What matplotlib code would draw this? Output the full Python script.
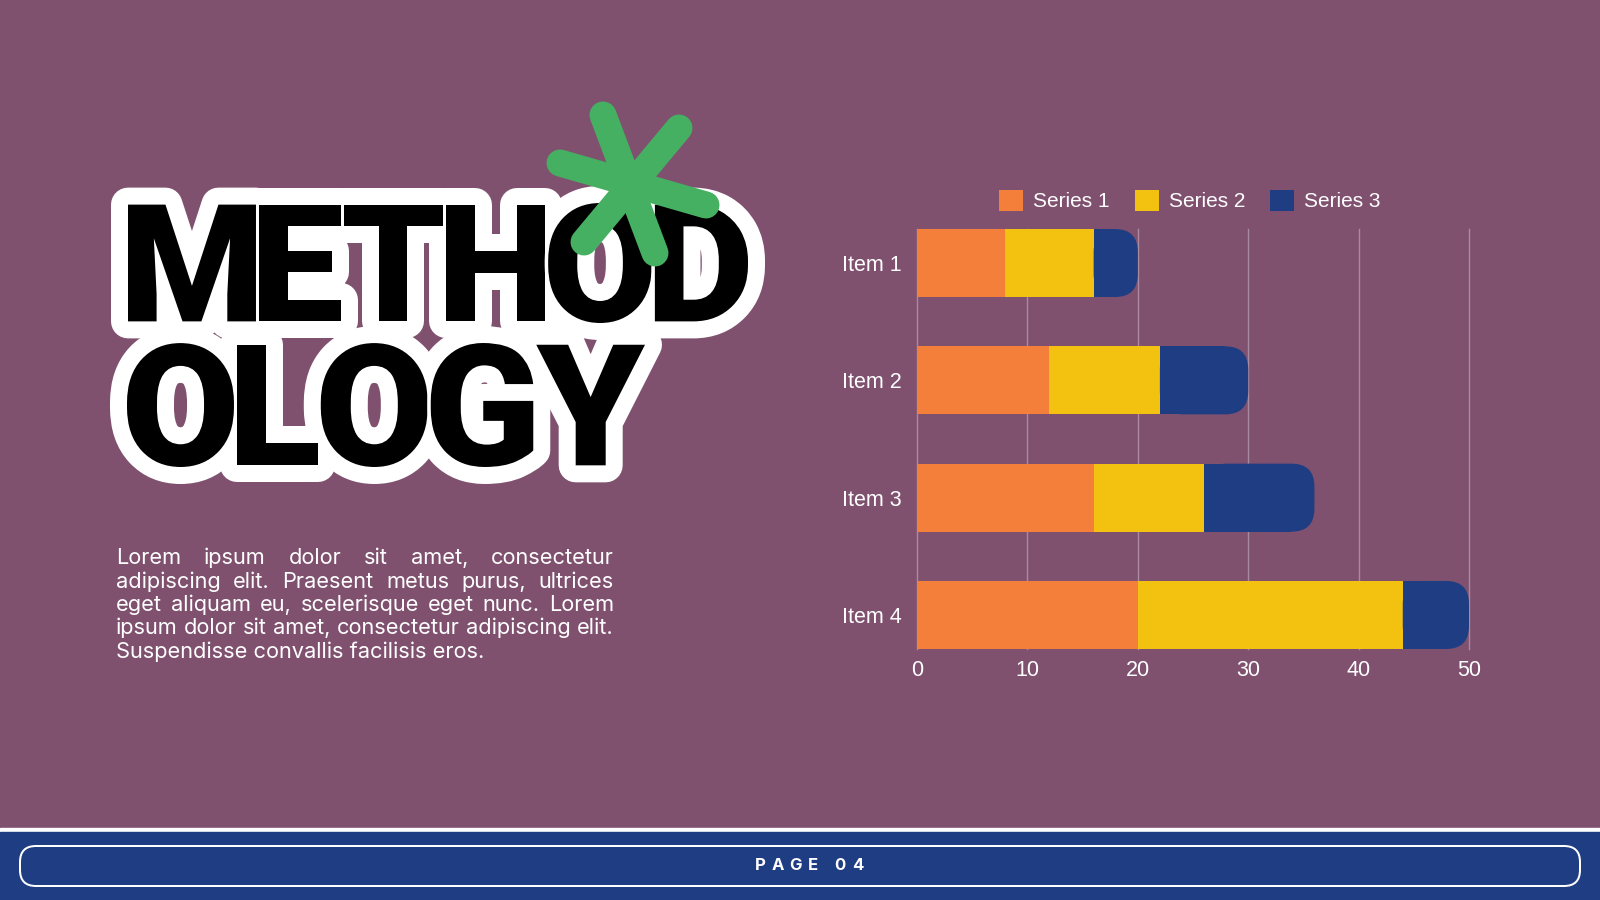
import matplotlib
matplotlib.use("Agg")  # non-GUI backend

import numpy as np
import matplotlib.pyplot as plt
from matplotlib.patches import FancyBboxPatch, PathPatch, Patch, Rectangle
from matplotlib.textpath import TextPath
from matplotlib.font_manager import FontProperties
from matplotlib.transforms import Affine2D

# ---- data ----
items = ["Item 1", "Item 2", "Item 3", "Item 4"]
series_names = ["Series 1", "Series 2", "Series 3"]
series_1 = [8, 12, 16, 20]
series_2 = [8, 10, 10, 24]
series_3 = [4, 8, 10, 6]
x_ticks = [0, 10, 20, 30, 40, 50]

title_lines = ["METHOD", "OLOGY"]
body_lines = [
    "Lorem ipsum dolor sit amet, consectetur",
    "adipiscing elit. Praesent metus purus, ultrices",
    "eget aliquam eu, scelerisque eget nunc. Lorem",
    "ipsum dolor sit amet, consectetur adipiscing elit.",
    "Suspendisse convallis facilisis eros.",
]
page_label = "PAGE 04"

# ---- style ----
BG = "#7F516F"
ORANGE = "#F47F3A"
YELLOW = "#F3C110"
NAVY = "#1F3D82"
GREEN = "#45B062"
GRID = "#A98A9F"
CHART_FONT = "Liberation Sans"
W, H = 1600, 900
PT = 0.72  # points per pixel at dpi 100

fig = plt.figure(figsize=(16, 9), dpi=100)
fig.patch.set_facecolor(BG)

# full-figure layer in pixel units, y pointing down
bg = fig.add_axes([0, 0, 1, 1])
bg.set_xlim(0, W)
bg.set_ylim(H, 0)
bg.axis("off")

# footer
bg.add_patch(Rectangle((0, 828), W, 4, color="white", zorder=1))
bg.add_patch(Rectangle((0, 832), W, H - 832, color=NAVY, zorder=1))
bg.add_patch(FancyBboxPatch((20, 846), W - 40, 40,
                            boxstyle="round,pad=0,rounding_size=16",
                            fc="none", ec="white", lw=2 * PT, zorder=2))
adv = {" ": 10}
total = sum(adv.get(c, 17.5) for c in page_label) - 17.5
x = 809 - total / 2
for ch in page_label:
    if ch != " ":
        bg.text(x, 866, ch, ha="center", va="center", color="white",
                fontsize=12, fontweight="bold", family="Inter", zorder=3)
    x += adv.get(ch, 17.5)

# title, letter by letter so the glyphs sit tight against each other
title_font = FontProperties(family="Roboto", weight="black")
title_boxes = [(128, 203, 748, 323), (127, 343, 645, 467)]
LETTER_GAP = 3


def letter_paths(s, box):
    left, top, right, bottom = box
    glyphs = [TextPath((0, 0), c, size=100, prop=title_font) for c in s]
    exts = [g.get_extents() for g in glyphs]
    sx = (right - left - LETTER_GAP * (len(s) - 1)) / sum(e.width for e in exts)
    y0 = min(e.y0 for e in exts)
    y1 = max(e.y1 for e in exts)
    sy = (bottom - top) / (y1 - y0)
    paths = []
    x = left
    for g, e in zip(glyphs, exts):
        tr = (Affine2D().translate(-e.x0, -y0).scale(sx, -sy)
              .translate(x, bottom))
        paths.append(tr.transform_path(g))
        x += e.width * sx + LETTER_GAP
    return paths


all_paths = [letter_paths(s, b) for s, b in zip(title_lines, title_boxes)]
for paths in all_paths:
    for p in paths:
        bg.add_patch(PathPatch(p, fc="white", ec="white", lw=34 * PT,
                               joinstyle="round", zorder=2))
z = 3
for paths in all_paths:
    for p in paths:
        bg.add_patch(PathPatch(p, fc="white", ec="white", lw=7 * PT,
                               joinstyle="round", zorder=z))
        bg.add_patch(PathPatch(p, fc="black", ec="none", zorder=z + 0.005))
        z += 0.01

# green asterisk
for (x0, y0), (x1, y1) in [((603, 115), (655, 253)),
                           ((679, 128), (584, 242)),
                           ((560, 163), (706, 205))]:
    bg.plot([x0, x1], [y0, y1], color=GREEN, lw=27 * PT,
            solid_capstyle="round", zorder=5)

# body paragraph, justified
renderer = fig.canvas.get_renderer()
BODY_LEFT, BODY_RIGHT = 116, 614
body_style = dict(family="Inter", color="white")


def text_w(s, fs):
    t = bg.text(0, 0, s, fontsize=fs, **body_style)
    w = t.get_window_extent(renderer).width
    t.remove()
    return w


body_size = 14 * (BODY_RIGHT - BODY_LEFT) / text_w(body_lines[3], 14)
for i, line in enumerate(body_lines):
    yb = 564 + i * 23.5
    if i == len(body_lines) - 1:
        bg.text(BODY_LEFT, yb, line, fontsize=body_size, va="baseline",
                **body_style)
        continue
    words = line.split()
    widths = [text_w(w_, body_size) for w_ in words]
    gap = (BODY_RIGHT - BODY_LEFT - sum(widths)) / (len(words) - 1)
    x = BODY_LEFT
    for w_, wd in zip(words, widths):
        bg.text(x, yb, w_, fontsize=body_size, va="baseline", **body_style)
        x += wd + gap

# ---- chart ----
AX_L, AX_R, AX_T, AX_B = 917, 1469, 229, 649
BAR_H = 0.58
ax = fig.add_axes([AX_L / W, 1 - AX_B / H, (AX_R - AX_L) / W, (AX_B - AX_T) / H])
ax.set_facecolor("none")
ax.set_xlim(0, 50)
ax.set_ylim(len(items) - 1 + 0.29, -0.29)

y = np.arange(len(items))
s1 = np.array(series_1)
s2 = np.array(series_2)
s3 = np.array(series_3)
ax.barh(y, s1, height=BAR_H, color=ORANGE, zorder=3)
ax.barh(y, s2, left=s1, height=BAR_H, color=YELLOW, zorder=3)

px_x = (AX_R - AX_L) / 50
px_y = (AX_B - AX_T) / (len(items) - 1 + 0.58)
rx = 23 / px_x
ry = 23 / px_y
left3 = s1 + s2
ax.barh(y, s3 - rx, left=left3, height=BAR_H, color=NAVY, zorder=3)
for yi, l, v in zip(y, left3, s3):
    ax.add_patch(FancyBboxPatch((l, yi - BAR_H / 2), v, BAR_H,
                                boxstyle=f"round,pad=0,rounding_size={rx}",
                                mutation_aspect=ry / rx,
                                fc=NAVY, ec="none", zorder=3))

ax.set_xticks(x_ticks)
ax.set_yticks(y, items)
ax.tick_params(axis="both", length=0, colors="white", labelsize=15.5)
ax.tick_params(axis="x", pad=8)
ax.tick_params(axis="y", pad=11)
for lab in ax.get_xticklabels() + ax.get_yticklabels():
    lab.set_family(CHART_FONT)
ax.grid(axis="x", color=GRID, lw=1, zorder=0)
for gl in ax.get_xgridlines():
    gl.set_clip_on(False)
for sp in ax.spines.values():
    sp.set_visible(False)

handles = [Patch(facecolor=c) for c in (ORANGE, YELLOW, NAVY)]
leg = ax.legend(handles, series_names, loc="center",
                bbox_to_anchor=(1190 / W, 1 - 200.5 / H),
                bbox_transform=fig.transFigure, ncol=3, frameon=False,
                handlelength=1.16, handleheight=1.16, handletextpad=0.48,
                columnspacing=1.2, borderaxespad=0,
                prop=FontProperties(family=CHART_FONT, size=15))
for t in leg.get_texts():
    t.set_color("white")

fig.savefig("out.png", dpi=100, facecolor=BG)
plt.close(fig)
